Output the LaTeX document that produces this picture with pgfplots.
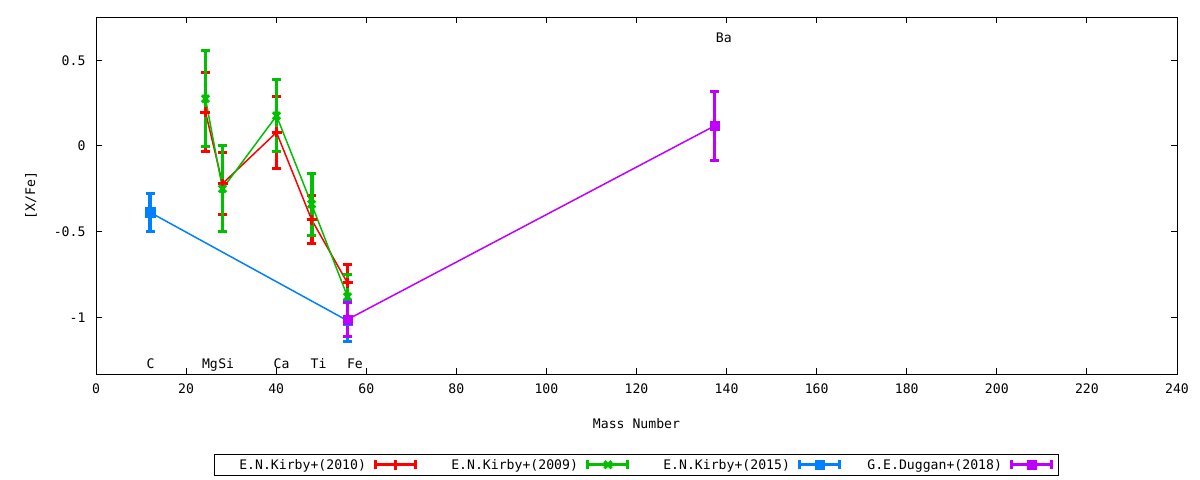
\documentclass[border=0pt]{standalone}
\usepackage{pgfplots}
\pgfplotsset{compat=1.18}
\usepackage{fontspec}
\setmainfont{DejaVu Sans Mono}
\definecolor{cRed}{HTML}{FF0000}
\definecolor{cGreen}{HTML}{00C000}
\definecolor{cBlue}{HTML}{0080FF}
\definecolor{cPurple}{HTML}{C000FF}
\newcommand{\gfont}{\fontsize{13.2}{15}\selectfont}
\pgfplotsset{
  ebimg/.style={legend image code/.code={
    \draw[line width=3bp] (0bp,0bp) -- (43bp,0bp);
    \draw[line width=3bp] (1.5bp,-4.5bp) -- (1.5bp,4.5bp) (41.5bp,-4.5bp) -- (41.5bp,4.5bp);
    \draw[line width=3bp, mark repeat=2, mark phase=2] plot coordinates {(0bp,0bp) (21.5bp,0bp) (43bp,0bp)};
  }},
  ebar/.style={
    error bars/.cd, y dir=both, y explicit,
    error bar style={line width=3.8bp},
    error mark options={rotate=90, line width=3bp, mark size=4.5bp},
  },
}
\begin{document}
\begin{tikzpicture}
\path[use as bounding box] (0,0) rectangle (1200bp,480bp);
\begin{axis}[
  at={(96bp,105.7bp)}, anchor=south west,
  scale only axis, width=1081bp, height=357bp,
  xmin=0, xmax=240, ymin=-1.333, ymax=0.751,
  xtick={0,20,...,240},
  ytick={-1,-0.5,0,0.5}, yticklabels={-1,-0.5,0,0.5},
  tick align=inside, major tick length=6bp,
  tick style={black, line width=1bp},
  axis line style={line width=1bp},
  /pgf/number format/assume math mode=true,
  tick label style={font=\gfont},
  xticklabel style={yshift=-6bp},
  yticklabel style={xshift=-7bp},
  label style={font=\gfont},
  xlabel={Mass Number}, ylabel={[X/Fe]},
  xlabel style={at={(axis description cs:0.5,0)}, anchor=center, yshift=-49bp},
  ylabel style={at={(axis description cs:0,0.5)}, anchor=center, yshift=65bp},
  legend plot pos=right,
  legend columns=4,
  legend style={at={(0.5,-0.2535)}, anchor=center, draw=black, line width=1bp,
    font=\gfont, inner xsep=3bp, inner ysep=1bp,
    nodes={text width=148bp, align=right, inner xsep=0bp, inner ysep=3.5bp},
    /tikz/every odd column/.style={column sep=7bp},
    /tikz/every even column/.style={column sep=11bp}},
]
\addplot[color=cRed, line width=1.5bp, mark=+, mark size=5bp, mark options={line width=3bp, solid}, ebimg, ebar]
  coordinates {
  (24.305,0.198) +- (0,0.23)
  (28.086,-0.22) +- (0,0.18)
  (40.078,0.079) +- (0,0.21)
  (47.867,-0.43) +- (0,0.14)
  (55.845,-0.80) +- (0,0.11)
  };
\addlegendentry{E.N.Kirby+(2010)}
\addplot[color=cGreen, line width=1.5bp, mark=x, mark size=5bp, mark options={line width=3bp, solid}, ebimg, ebar]
  coordinates {
  (24.305,0.276) +- (0,0.28)
  (28.086,-0.25) +- (0,0.25)
  (40.078,0.176) +- (0,0.21)
  (47.867,-0.34) +- (0,0.18)
  (55.845,-0.88) +- (0,0.13)
  };
\addlegendentry{E.N.Kirby+(2009)}
\addplot[color=cBlue, line width=1.5bp, mark=square*, mark size=4.7bp, mark options={line width=0.5bp, solid}, ebimg, ebar]
  coordinates {
  (12.011,-0.388) +- (0,0.11)
  (55.845,-1.02) +- (0,0.12)
  };
\addlegendentry{E.N.Kirby+(2015)}
\addplot[color=cPurple, line width=1.5bp, mark=square*, mark size=4.7bp, mark options={line width=0.5bp, solid}, ebimg, ebar]
  coordinates {
  (55.845,-1.013) +- (0,0.10)
  (137.33,0.117) +- (0,0.20)
  };
\addlegendentry{G.E.Duggan+(2018)}
\node[anchor=base west, inner sep=0, font=\gfont] at (axis cs:11.2,-1.302) {C};
\node[anchor=base west, inner sep=0, font=\gfont] at (axis cs:23.5,-1.302) {Mg};
\node[anchor=base west, inner sep=0, font=\gfont] at (axis cs:27.1,-1.302) {Si};
\node[anchor=base west, inner sep=0, font=\gfont] at (axis cs:39.4,-1.302) {Ca};
\node[anchor=base west, inner sep=0, font=\gfont] at (axis cs:47.6,-1.302) {Ti};
\node[anchor=base west, inner sep=0, font=\gfont] at (axis cs:55.7,-1.302) {Fe};
\node[anchor=base west, inner sep=0, font=\gfont] at (axis cs:137.6,0.603) {Ba};
\end{axis}
\end{tikzpicture}
\end{document}
